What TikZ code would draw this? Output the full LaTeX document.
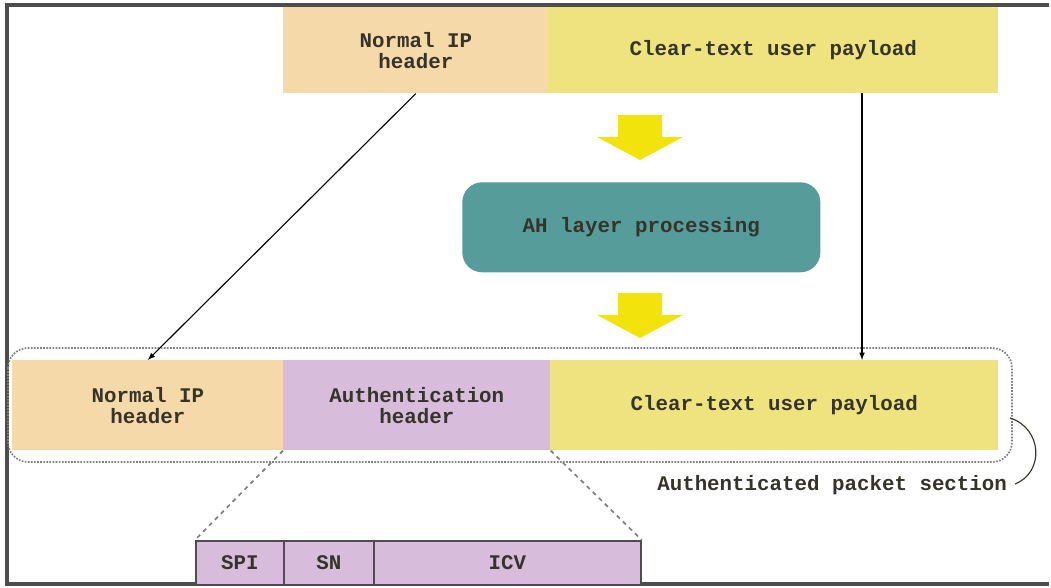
\documentclass[tikz,border=0pt]{standalone}
\usepackage{fontspec}
\setmainfont{Liberation Mono}
\definecolor{ipcol}{HTML}{F5D9A9}
\definecolor{paycol}{HTML}{EEE37E}
\definecolor{authcol}{HTML}{D7BCDB}
\definecolor{ahcol}{HTML}{559C9B}
\definecolor{txtcol}{HTML}{35342A}
\definecolor{framecol}{HTML}{4D4D4D}
\definecolor{bigarrow}{HTML}{F2E30C}
\tikzset{
  field/.style={inner sep=0pt,anchor=north west,text=txtcol,align=center,
    font=\fontsize{14.8}{15}\selectfont\bfseries},
  frame/.style={draw=framecol,line width=2.2pt},
}
\begin{document}
\begin{tikzpicture}[x=0.025cm,y=-0.025cm]
  \useasboundingbox (0,0) rectangle (1051,587);
  \fill[white] (0,0) rectangle (1051,587);
  \draw[frame] (1049,5) -- (7,5) -- (7,584) -- (1049,584);

  % packet before processing
  \node[field,fill=ipcol,minimum width=6.625cm,minimum height=2.15cm]
    (topip) at (283,7) {Normal IP\\header};
  \node[field,fill=paycol,minimum width=11.25cm,minimum height=2.15cm]
    (toppay) at (548,7) {Clear-text user payload};

  % yellow block arrows
  \foreach \t in {115,293}
    \fill[bigarrow] (618,\t) -- (662,\t) -- (662,\t+22) -- (683,\t+22)
      -- (640,\t+45) -- (597,\t+22) -- (618,\t+22) -- cycle;

  \node[field,fill=ahcol,rounded corners=0.5cm,minimum width=8.95cm,
    minimum height=2.25cm] (ah) at (462,182) {AH layer processing};

  % authenticated section
  \draw[gray,densely dotted,line width=1.2pt,rounded corners=0.5cm]
    (8,348) rectangle (1012,462);
  \node[field,fill=ipcol,minimum width=6.775cm,minimum height=2.25cm]
    (ip) at (12,360) {Normal IP\\header};
  \node[field,fill=authcol,minimum width=6.675cm,minimum height=2.25cm]
    (auth) at (283,360) {Authentication\\header};
  \node[field,fill=paycol,minimum width=11.2cm,minimum height=2.25cm]
    (pay) at (550,360) {Clear-text user payload};

  \draw[-latex,thick] (topip.south) -- (ip.north);
  \coordinate (drop) at (862,93);
  \draw[-latex,thick] (drop) -- (drop |- pay.north);

  % AH fields
  \tikzset{ahfield/.style={field,fill=authcol,draw=framecol,line width=1.2pt,
    minimum height=1.1cm}}
  \node[ahfield,minimum width=2.2cm] (spi) at (195,540) {SPI};
  \node[ahfield,minimum width=2.25cm] (sn) at (283,540) {SN};
  \node[ahfield,minimum width=6.675cm] (icv) at (373,540) {ICV};

  \draw[gray,dashed,line width=1.2pt] (auth.south west) -- (spi.north west);
  \draw[gray,dashed,line width=1.2pt] (auth.south east) -- (icv.north east);

  \node[field,anchor=base west] (section) at (657,490)
    {Authenticated packet section};
  \coordinate (brtop) at (1010,418);
  \coordinate (brbot) at (1015,484);
  \draw[txtcol,thick] (brtop) .. controls (1042,428) and (1045,472) .. (brbot);
\end{tikzpicture}
\end{document}
